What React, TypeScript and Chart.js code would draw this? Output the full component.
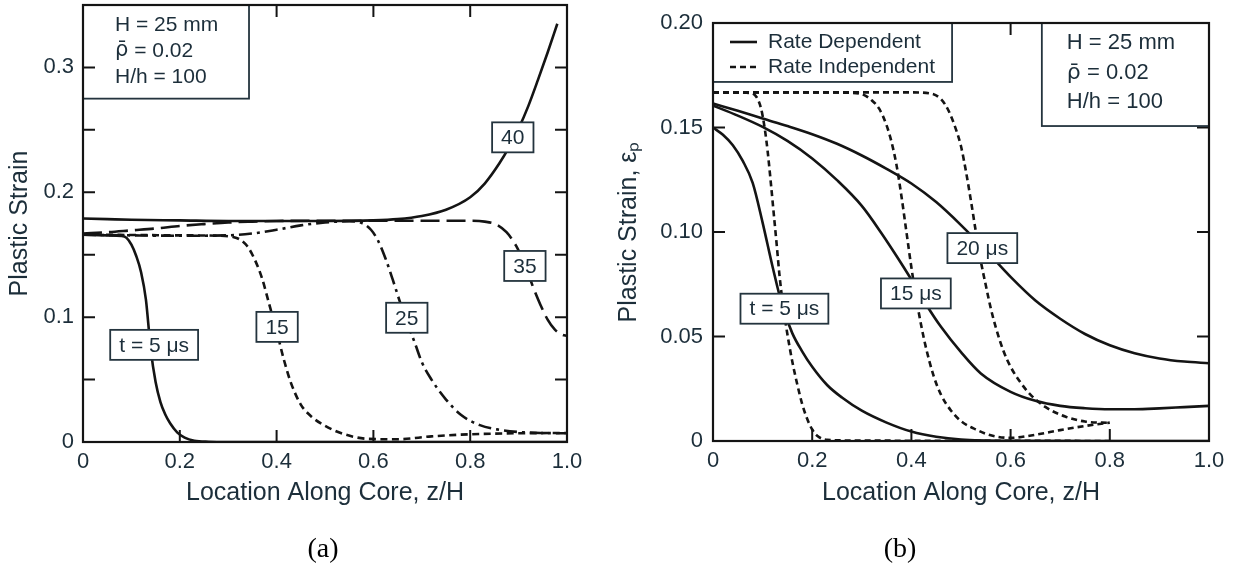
import React, { useEffect, useRef } from 'react';
import { Chart, registerables } from 'chart.js';

Chart.register(...registerables);

const SANS = '"Liberation Sans", Arial, Helvetica, sans-serif';
const MARK_FONT = '"DejaVu Sans", sans-serif';
const SERIF = '"Liberation Serif", "Times New Roman", serif';
const TEXT = '#1c2e3a';
const INK = '#141414';
const BOX = '#24343e';

// ---------------- Panel (a) ----------------
const A_X_TICKS = [0, 0.2, 0.4, 0.6, 0.8, 1.0];
const A_X_LABELS = ['0', '0.2', '0.4', '0.6', '0.8', '1.0'];
const A_Y_TICKS = [0, 0.1, 0.2, 0.3];
const A_Y_LABELS = ['0', '0.1', '0.2', '0.3'];
const A_X_MARKS = [0.2, 0.4, 0.6, 0.8];
const A_Y_MARKS = [0.05, 0.1, 0.15, 0.2, 0.25, 0.3];

const A_T5_X = [0, 0.05, 0.08, 0.09, 0.1, 0.11, 0.12, 0.13, 0.14, 0.15, 0.16, 0.17, 0.18, 0.195, 0.21, 0.23, 0.26, 0.3, 1.0];
const A_T5_Y = [0.166, 0.1655, 0.165, 0.1635, 0.158, 0.149, 0.136, 0.114, 0.074, 0.048, 0.032, 0.022, 0.015, 0.0075, 0.0035, 0.001, 0.0002, 0, 0];

const A_T15_X = [0, 0.1, 0.2, 0.28, 0.31, 0.325, 0.34, 0.355, 0.37, 0.385, 0.4, 0.415, 0.43, 0.45, 0.47, 0.5, 0.54, 0.59, 0.65, 0.72, 0.8, 0.9, 1.0];
const A_T15_Y = [0.166, 0.1658, 0.1655, 0.1652, 0.1642, 0.162, 0.1565, 0.146, 0.131, 0.11, 0.089, 0.066, 0.047, 0.03, 0.021, 0.013, 0.0062, 0.0025, 0.0022, 0.0045, 0.0062, 0.007, 0.0072];

const A_T25_X = [0, 0.1, 0.2, 0.3, 0.35, 0.4, 0.45, 0.5, 0.55, 0.575, 0.595, 0.61, 0.625, 0.64, 0.655, 0.67, 0.685, 0.7, 0.72, 0.75, 0.78, 0.82, 0.86, 0.9, 0.95, 1.0];
const A_T25_Y = [0.166, 0.1655, 0.1652, 0.1655, 0.167, 0.17, 0.1735, 0.1758, 0.1768, 0.1755, 0.17, 0.161, 0.147, 0.13, 0.112, 0.095, 0.08, 0.064, 0.05, 0.034, 0.022, 0.0135, 0.0098, 0.008, 0.0072, 0.007];

const A_T35_X = [0, 0.05, 0.1, 0.15, 0.2, 0.25, 0.3, 0.35, 0.4, 0.5, 0.6, 0.7, 0.8, 0.83, 0.855, 0.875, 0.895, 0.915, 0.93, 0.945, 0.96, 0.975, 0.99, 1.0];
const A_T35_Y = [0.167, 0.168, 0.1695, 0.171, 0.173, 0.1745, 0.1758, 0.1765, 0.177, 0.1772, 0.1772, 0.1772, 0.1772, 0.1765, 0.174, 0.168, 0.157, 0.14, 0.124, 0.11, 0.098, 0.09, 0.086, 0.085];

const A_T40_X = [0, 0.05, 0.1, 0.2, 0.3, 0.4, 0.5, 0.6, 0.65, 0.7, 0.75, 0.8, 0.83, 0.86, 0.88, 0.9, 0.92, 0.94, 0.96, 0.98];
const A_T40_Y = [0.179, 0.1785, 0.178, 0.1775, 0.177, 0.177, 0.177, 0.1775, 0.1785, 0.181, 0.186, 0.196, 0.207, 0.223, 0.236, 0.251, 0.269, 0.29, 0.312, 0.335];

const A_TAG_TEXT = ['t = 5 μs', '15', '25', '35', '40'];
const A_TAG_X = [0.147, 0.401, 0.669, 0.913, 0.888];
const A_TAG_Y = [0.0778, 0.0922, 0.0995, 0.141, 0.244];

// ---------------- Panel (b) ----------------
const B_X_TICKS = [0, 0.2, 0.4, 0.6, 0.8, 1.0];
const B_X_LABELS = ['0', '0.2', '0.4', '0.6', '0.8', '1.0'];
const B_Y_TICKS = [0, 0.05, 0.1, 0.15, 0.2];
const B_Y_LABELS = ['0', '0.05', '0.10', '0.15', '0.20'];
const B_X_MARKS = [0.2, 0.4, 0.6, 0.8];
const B_Y_MARKS = [0.05, 0.1, 0.15];

// Rate dependent (solid)
const B_RD5_X = [0, 0.02, 0.04, 0.06, 0.08, 0.1, 0.12, 0.14, 0.16, 0.18, 0.2, 0.23, 0.26, 0.3, 0.35, 0.4, 0.45, 0.5, 0.6, 0.8, 1.0];
const B_RD5_Y = [0.15, 0.1465, 0.1415, 0.134, 0.1235, 0.1045, 0.0835, 0.0645, 0.0515, 0.0428, 0.0355, 0.0268, 0.0208, 0.0145, 0.0088, 0.0045, 0.002, 0.0007, 0.0001, 0, 0];

const B_RD15_X = [0, 0.05, 0.1, 0.15, 0.2, 0.25, 0.3, 0.34, 0.37, 0.4, 0.43, 0.46, 0.5, 0.54, 0.6, 0.65, 0.7, 0.75, 0.8, 0.85, 0.9, 0.95, 1.0];
const B_RD15_Y = [0.1605, 0.1557, 0.1503, 0.1436, 0.1352, 0.1248, 0.1125, 0.0993, 0.0885, 0.0772, 0.0652, 0.0545, 0.0425, 0.0323, 0.0235, 0.0192, 0.0168, 0.0157, 0.0152, 0.0152, 0.0156, 0.0162, 0.0168];

const B_RD20_X = [0, 0.05, 0.1, 0.15, 0.2, 0.25, 0.3, 0.35, 0.4, 0.45, 0.5, 0.55, 0.6, 0.65, 0.7, 0.75, 0.8, 0.85, 0.9, 0.95, 1.0];
const B_RD20_Y = [0.1615, 0.158, 0.1543, 0.1507, 0.1468, 0.1422, 0.1366, 0.1302, 0.1232, 0.1143, 0.1033, 0.0912, 0.0785, 0.0672, 0.0585, 0.0512, 0.0458, 0.042, 0.0395, 0.038, 0.0372];

// Rate independent (dashed)
const B_RI5_X = [0, 0.04, 0.075, 0.088, 0.097, 0.104, 0.11, 0.116, 0.122, 0.128, 0.134, 0.14, 0.147, 0.154, 0.162, 0.17, 0.18, 0.19, 0.2, 0.21, 0.23, 0.3, 0.6, 0.8];
const B_RI5_Y = [0.1668, 0.1668, 0.1665, 0.1645, 0.159, 0.15, 0.139, 0.125, 0.11, 0.095, 0.0795, 0.067, 0.0555, 0.0455, 0.0355, 0.027, 0.0175, 0.0105, 0.0055, 0.0025, 0.0006, 0.0002, 0.0001, 0];

const B_RI15_X = [0, 0.1, 0.2, 0.28, 0.305, 0.32, 0.335, 0.35, 0.36, 0.37, 0.38, 0.39, 0.4, 0.41, 0.42, 0.43, 0.445, 0.46, 0.48, 0.5, 0.53, 0.56, 0.6, 0.65, 0.7, 0.75, 0.8];
const B_RI15_Y = [0.1668, 0.1668, 0.1668, 0.1666, 0.1655, 0.163, 0.159, 0.151, 0.143, 0.132, 0.117, 0.1, 0.083, 0.068, 0.055, 0.044, 0.031, 0.022, 0.0145, 0.0095, 0.0055, 0.0027, 0.0015, 0.003, 0.0052, 0.0072, 0.0088];

const B_RI20_X = [0, 0.1, 0.2, 0.3, 0.4, 0.44, 0.46, 0.475, 0.49, 0.5, 0.51, 0.52, 0.53, 0.54, 0.55, 0.56, 0.57, 0.585, 0.6, 0.62, 0.64, 0.67, 0.71, 0.75, 0.8];
const B_RI20_Y = [0.1668, 0.1668, 0.1668, 0.1668, 0.1668, 0.1662, 0.1635, 0.158, 0.149, 0.141, 0.129, 0.115, 0.1, 0.086, 0.0745, 0.0635, 0.0545, 0.0435, 0.0355, 0.028, 0.0222, 0.0163, 0.0117, 0.0093, 0.0087];

const B_TAG_TEXT = ['t = 5 μs', '15 μs', '20 μs'];
const B_TAG_X = [0.144, 0.409, 0.543];
const B_TAG_Y = [0.0633, 0.0706, 0.0923];

const LEGEND_LABELS = ['Rate Dependent', 'Rate Independent'];
const INFO_LINES = ['H = 25 mm', 'ρ\u0304 = 0.02', 'H/h = 100'];

// ---------------- styles ----------------
const SOLID: number[] = [];
const SHORT_DASH = [7, 4.5];
const DASH_DOT = [13, 5, 3, 5];
const LONG_DASH = [19, 7];
const RI_DASH = [6, 4];

type Series = { name: string; xs: number[]; ys: number[]; dash: number[] };

type Spec = {
  series: Series[];
  xTicks: number[]; xLabels: string[];
  yTicks: number[]; yLabels: string[];
  yMax: number;
  xTitle: string; yTitle: string;
  yTitlePad: number; yWidth: number; xHeight: number; yLabelPad: number;
  padding: { left: number; right: number; top: number; bottom: number };
  xMarks: number[]; yMarks: number[]; yMarksOnTop: boolean;
  tagText: string[]; tagX: number[]; tagY: number[];
  info: { x0: number; x1: number; y0: number; y1: number; dx: number; dys: number[]; size: number };
  legend?: { x0: number; x1: number; y0: number; y1: number; s0: number; s1: number; tx: number; dys: number[]; dashes: number[][] };
};

const PANEL_A: Spec = {
  series: [
    { name: 't = 5 μs', xs: A_T5_X, ys: A_T5_Y, dash: SOLID },
    { name: '15', xs: A_T15_X, ys: A_T15_Y, dash: SHORT_DASH },
    { name: '25', xs: A_T25_X, ys: A_T25_Y, dash: DASH_DOT },
    { name: '35', xs: A_T35_X, ys: A_T35_Y, dash: LONG_DASH },
    { name: '40', xs: A_T40_X, ys: A_T40_Y, dash: SOLID },
  ],
  xTicks: A_X_TICKS, xLabels: A_X_LABELS,
  yTicks: A_Y_TICKS, yLabels: A_Y_LABELS,
  yMax: 0.35,
  xTitle: 'Location Along Core, z/H', yTitle: 'Plastic Strain',
  yTitlePad: 5, yWidth: 83, xHeight: 124, yLabelPad: 9,
  padding: { left: 0, right: 28, top: 5, bottom: 0 },
  xMarks: A_X_MARKS, yMarks: A_Y_MARKS, yMarksOnTop: true,
  tagText: A_TAG_TEXT, tagX: A_TAG_X, tagY: A_TAG_Y,
  info: { x0: 0, x1: 0.343, y0: 0.35, y1: 0.275, dx: 32, dys: [20, 46, 72], size: 21 },
};

const PANEL_B: Spec = {
  series: [
    { name: 'RD 5 μs', xs: B_RD5_X, ys: B_RD5_Y, dash: SOLID },
    { name: 'RD 15 μs', xs: B_RD15_X, ys: B_RD15_Y, dash: SOLID },
    { name: 'RD 20 μs', xs: B_RD20_X, ys: B_RD20_Y, dash: SOLID },
    { name: 'RI 5 μs', xs: B_RI5_X, ys: B_RI5_Y, dash: RI_DASH },
    { name: 'RI 15 μs', xs: B_RI15_X, ys: B_RI15_Y, dash: RI_DASH },
    { name: 'RI 20 μs', xs: B_RI20_X, ys: B_RI20_Y, dash: RI_DASH },
  ],
  xTicks: B_X_TICKS, xLabels: B_X_LABELS,
  yTicks: B_Y_TICKS, yLabels: B_Y_LABELS,
  yMax: 0.2,
  xTitle: 'Location Along Core, z/H', yTitle: 'Plastic Strain, εₚ',
  yTitlePad: 19, yWidth: 118, xHeight: 125, yLabelPad: 10,
  padding: { left: 0, right: 30, top: 23, bottom: 0 },
  xMarks: B_X_MARKS, yMarks: B_Y_MARKS, yMarksOnTop: false,
  tagText: B_TAG_TEXT, tagX: B_TAG_X, tagY: B_TAG_Y,
  info: { x0: 0.663, x1: 1.0, y0: 0.2, y1: 0.1507, dx: 25, dys: [20, 50, 79], size: 22 },
  legend: { x0: 0, x1: 0.482, y0: 0.2, y1: 0.1718, s0: 17, s1: 44, tx: 55, dys: [19, 44], dashes: [SOLID, RI_DASH] },
};

// Draw a text line; a leading base+combining-mark cluster is set in a font with mark positioning.
function drawInfoLine(ctx: CanvasRenderingContext2D, line: string, x: number, y: number, size: number) {
  if (line.length > 1 && line.charCodeAt(1) >= 0x0300 && line.charCodeAt(1) <= 0x036f) {
    const cluster = line.slice(0, 2);
    const rest = line.slice(2);
    ctx.font = `${size}px ${MARK_FONT}`;
    ctx.fillText(cluster, x, y);
    const w = ctx.measureText(cluster).width;
    ctx.font = `${size}px ${SANS}`;
    ctx.fillText(rest, x + w, y);
  } else {
    ctx.font = `${size}px ${SANS}`;
    ctx.fillText(line, x, y);
  }
}

function decorPlugin(spec: Spec) {
  return {
    id: 'decor',
    afterDatasetsDraw(chart: any) {
      const { ctx, chartArea } = chart;
      const { left, right, top, bottom } = chartArea;
      const xs = chart.scales.x;
      const ys = chart.scales.y;
      const TL = 12;
      ctx.save();
      ctx.setLineDash([]);
      ctx.lineCap = 'butt';

      const drawXMarks = () => {
        ctx.strokeStyle = INK;
        ctx.lineWidth = 2;
        ctx.beginPath();
        spec.xMarks.forEach((v) => {
          const px = xs.getPixelForValue(v);
          ctx.moveTo(px, bottom); ctx.lineTo(px, bottom - TL);
          ctx.moveTo(px, top); ctx.lineTo(px, top + TL);
        });
        ctx.stroke();
      };
      const drawYMarks = () => {
        ctx.strokeStyle = INK;
        ctx.lineWidth = 2;
        ctx.beginPath();
        spec.yMarks.forEach((v) => {
          const py = ys.getPixelForValue(v);
          ctx.moveTo(left, py); ctx.lineTo(left + TL, py);
          ctx.moveTo(right, py); ctx.lineTo(right - TL, py);
        });
        ctx.stroke();
      };

      drawXMarks();
      if (!spec.yMarksOnTop) drawYMarks();

      const box = (x0: number, y0: number, x1: number, y1: number) => {
        ctx.fillStyle = '#ffffff';
        ctx.fillRect(x0, y0, x1 - x0, y1 - y0);
        ctx.strokeStyle = BOX;
        ctx.lineWidth = 1.8;
        ctx.strokeRect(x0, y0, x1 - x0, y1 - y0);
      };

      // curve tags
      ctx.font = `21px ${SANS}`;
      ctx.textAlign = 'center';
      ctx.textBaseline = 'middle';
      spec.tagText.forEach((t, i) => {
        const cx = xs.getPixelForValue(spec.tagX[i]);
        const cy = ys.getPixelForValue(spec.tagY[i]);
        const w = ctx.measureText(t).width + 18;
        const h = 30;
        box(cx - w / 2, cy - h / 2, cx + w / 2, cy + h / 2);
        ctx.fillStyle = TEXT;
        ctx.fillText(t, cx, cy + 1);
      });

      // info box
      const inf = spec.info;
      const ix0 = xs.getPixelForValue(inf.x0);
      const ix1 = xs.getPixelForValue(inf.x1);
      const iy0 = ys.getPixelForValue(inf.y0);
      const iy1 = ys.getPixelForValue(inf.y1);
      box(ix0, iy0, ix1, iy1);
      ctx.textAlign = 'left';
      ctx.fillStyle = TEXT;
      INFO_LINES.forEach((line, i) => {
        drawInfoLine(ctx, line, ix0 + inf.dx, iy0 + inf.dys[i], inf.size);
      });

      // legend
      if (spec.legend) {
        const lg = spec.legend;
        const lx0 = xs.getPixelForValue(lg.x0);
        const lx1 = xs.getPixelForValue(lg.x1);
        const ly0 = ys.getPixelForValue(lg.y0);
        const ly1 = ys.getPixelForValue(lg.y1);
        box(lx0, ly0, lx1, ly1);
        ctx.font = `21px ${SANS}`;
        LEGEND_LABELS.forEach((lab, i) => {
          const yy = ly0 + lg.dys[i];
          ctx.strokeStyle = INK;
          ctx.lineWidth = 2.6;
          ctx.setLineDash(lg.dashes[i]);
          ctx.beginPath();
          ctx.moveTo(lx0 + lg.s0, yy);
          ctx.lineTo(lx0 + lg.s1, yy);
          ctx.stroke();
          ctx.setLineDash([]);
          ctx.fillStyle = TEXT;
          ctx.fillText(lab, lx0 + lg.tx, yy);
        });
      }

      if (spec.yMarksOnTop) drawYMarks();

      // frame
      ctx.setLineDash([]);
      ctx.strokeStyle = INK;
      ctx.lineWidth = 2.2;
      ctx.strokeRect(left, top, right - left, bottom - top);
      ctx.restore();
    },
  };
}

function buildConfig(spec: Spec): any {
  return {
    type: 'line',
    data: {
      datasets: spec.series.map((s) => ({
        label: s.name,
        data: s.xs.map((x, i) => ({ x, y: s.ys[i] })),
        borderColor: INK,
        borderWidth: 2.6,
        borderDash: s.dash,
        pointRadius: 0,
        cubicInterpolationMode: 'monotone',
        fill: false,
      })),
    },
    options: {
      responsive: false,
      animation: false,
      devicePixelRatio: 1,
      events: [],
      layout: { padding: spec.padding },
      plugins: { legend: { display: false }, tooltip: { enabled: false }, title: { display: false } },
      scales: {
        x: {
          type: 'linear',
          min: 0,
          max: 1,
          afterBuildTicks: (s: any) => { s.ticks = spec.xTicks.map((v) => ({ value: v })); },
          ticks: {
            callback: (_v: any, i: number) => spec.xLabels[i],
            font: { family: SANS, size: 22 },
            color: TEXT,
            padding: 7,
            maxRotation: 0,
            minRotation: 0,
            autoSkip: false,
          },
          grid: { display: false, drawTicks: false },
          border: { display: false },
          title: {
            display: true,
            text: spec.xTitle,
            font: { family: SANS, size: 25 },
            color: TEXT,
            padding: { top: 0, bottom: 58 },
          },
          afterFit: (s: any) => { s.height = spec.xHeight; s.paddingLeft = 0; s.paddingRight = 0; },
        },
        y: {
          type: 'linear',
          min: 0,
          max: spec.yMax,
          afterBuildTicks: (s: any) => { s.ticks = spec.yTicks.map((v) => ({ value: v })); },
          ticks: {
            callback: (_v: any, i: number) => spec.yLabels[i],
            font: { family: SANS, size: 22 },
            color: TEXT,
            padding: spec.yLabelPad,
            autoSkip: false,
          },
          grid: { display: false, drawTicks: false },
          border: { display: false },
          title: {
            display: true,
            text: spec.yTitle,
            font: { family: SANS, size: 25 },
            color: TEXT,
            padding: { top: spec.yTitlePad, bottom: 0 },
          },
          afterFit: (s: any) => { s.width = spec.yWidth; s.paddingTop = 0; s.paddingBottom = 0; },
        },
      },
    },
    plugins: [decorPlugin(spec)],
  };
}

function Panel({ spec, left, width }: { spec: Spec; left: number; width: number }) {
  const ref = useRef<HTMLCanvasElement>(null);
  useEffect(() => {
    const chart = new Chart(ref.current as HTMLCanvasElement, buildConfig(spec));
    return () => chart.destroy();
  }, [spec]);
  return (
    <canvas
      ref={ref}
      width={width}
      height={566}
      style={{ position: 'absolute', left, top: 0, width, height: 566 }}
    />
  );
}

const captionStyle = (x: number): React.CSSProperties => ({
  position: 'absolute',
  left: x,
  top: 548,
  transform: 'translate(-50%, -50%)',
  fontFamily: SERIF,
  fontSize: 28,
  lineHeight: 1,
  color: '#000',
  whiteSpace: 'nowrap',
});

export default function App() {
  return (
    <div style={{ position: 'fixed', left: 0, top: 0, width: 1239, height: 566, background: '#fff', overflow: 'hidden' }}>
      <Panel spec={PANEL_A} left={0} width={595} />
      <Panel spec={PANEL_B} left={595} width={644} />
      <div style={captionStyle(323)}>(a)</div>
      <div style={captionStyle(900)}>(b)</div>
    </div>
  );
}
